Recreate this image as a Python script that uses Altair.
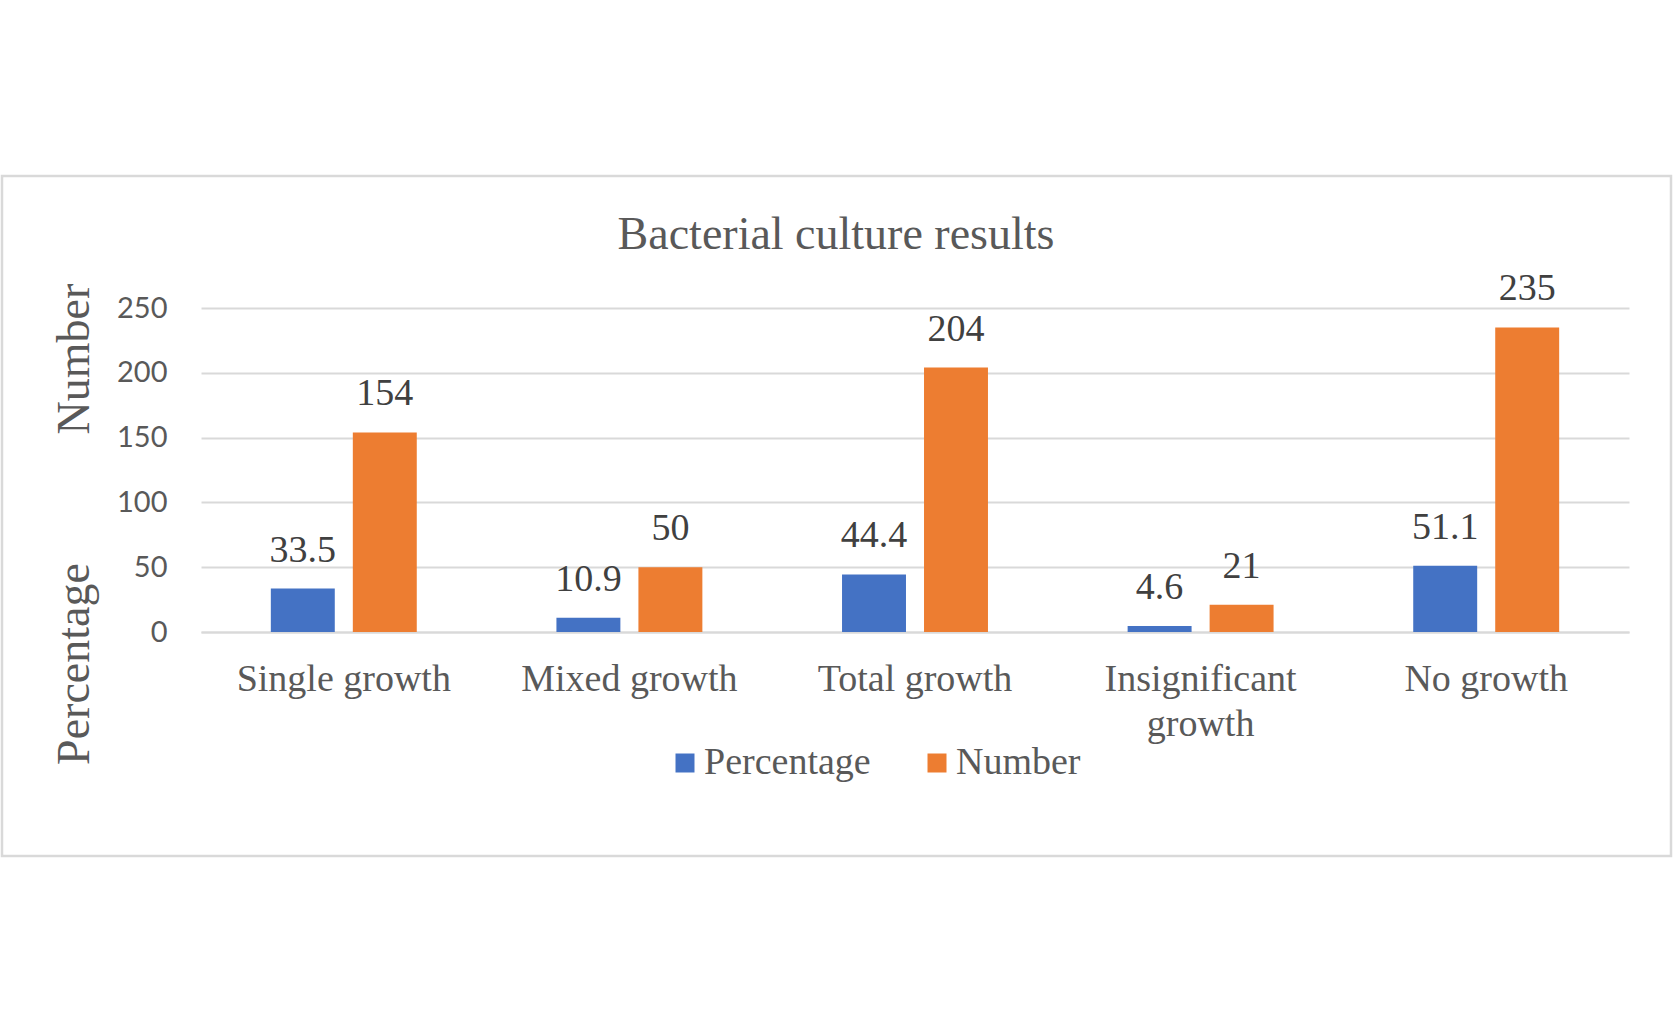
import altair as alt
import pandas as pd

# Bacterial culture results: percentage and count per outcome
categories = ["Single growth", "Mixed growth", "Total growth", "Insignificant growth", "No growth"]
series_names = ["Percentage", "Number"]
percentage = [33.5, 10.9, 44.4, 4.6, 51.1]
number = [154, 50, 204, 21, 235]
y_ticks = [0, 50, 100, 150, 200, 250]
series_colors = ["#4472C4", "#ED7D31"]

rows = []
for cat, p, n in zip(categories, percentage, number):
    rows.append({"category": cat, "series": "Percentage", "value": p})
    rows.append({"category": cat, "series": "Number", "value": n})
df = pd.DataFrame(rows)

PLOT_W = 1428
PLOT_H = 324
SERIF = "Liberation Serif"
GREY = "#595959"
LINE = "#D9D9D9"

x_enc = alt.X(
    "category:N",
    sort=categories,
    scale=alt.Scale(paddingInner=0.489, paddingOuter=0.2445),
    axis=alt.Axis(
        title=None,
        labelAngle=0,
        labelFont=SERIF,
        labelFontSize=38,
        labelColor=GREY,
        labelLimit=500,
        labelPadding=28,
        labelLineHeight=45,
        labelExpr="datum.label == 'Insignificant growth' ? ['Insignificant', 'growth'] : datum.label",
        ticks=False,
        domainColor=LINE,
        domainWidth=2,
    ),
)
xoff_enc = alt.XOffset(
    "series:N",
    sort=series_names,
    scale=alt.Scale(domain=series_names, paddingInner=0.22, paddingOuter=0),
)
y_enc = alt.Y(
    "value:Q",
    scale=alt.Scale(domain=[0, 250], nice=False),
    axis=alt.Axis(
        title=None,
        values=y_ticks,
        labelFont="Lato",
        labelFontSize=29,
        labelColor=GREY,
        labelPadding=34,
        ticks=False,
        domain=False,
        gridColor=LINE,
        gridWidth=2,
    ),
)

bars = alt.Chart(df).mark_bar().encode(
    x=x_enc,
    xOffset=xoff_enc,
    y=y_enc,
    color=alt.Color(
        "series:N",
        sort=series_names,
        scale=alt.Scale(domain=series_names, range=series_colors),
        legend=alt.Legend(
            title=None,
            orient="none",
            direction="horizontal",
            legendX=465,
            legendY=436,
            padding=0,
            symbolType="square",
            symbolSize=361,
            symbolStrokeWidth=0,
            labelFont=SERIF,
            labelFontSize=38,
            labelColor=GREY,
            labelOffset=0,
            labelLimit=400,
            columnPadding=47,
        ),
    ),
)

value_labels = alt.Chart(df).mark_text(
    font=SERIF, fontSize=38, color="#404040", baseline="alphabetic", dy=-27
).encode(
    x=x_enc,
    xOffset=xoff_enc,
    y=y_enc,
    text=alt.Text("value:Q"),
)

one = pd.DataFrame({"k": [0]})

frame = alt.Chart(one).mark_rect(fill="transparent", stroke=LINE, strokeWidth=2.5).encode(
    x=alt.value(-199), x2=alt.value(1470), y=alt.value(-132), y2=alt.value(548)
)

title = alt.Chart(one).mark_text(
    text="Bacterial culture results", font=SERIF, fontSize=46, color=GREY,
    align="center", baseline="alphabetic",
).encode(x=alt.value(635), y=alt.value(-59))

y_title_top = alt.Chart(one).mark_text(
    text="Number", font=SERIF, fontSize=46, color=GREY,
    angle=270, align="center", baseline="middle",
).encode(x=alt.value(-126), y=alt.value(51))

y_title_bottom = alt.Chart(one).mark_text(
    text="Percentage", font=SERIF, fontSize=46, color=GREY,
    angle=270, align="center", baseline="middle",
).encode(x=alt.value(-126), y=alt.value(356))

chart = (
    alt.layer(frame, bars, value_labels, title, y_title_top, y_title_bottom)
    .properties(
        width=PLOT_W,
        height=PLOT_H,
        autosize=alt.AutoSizeParams(type="none"),
        padding={"left": 201, "top": 308, "right": 45, "bottom": 402},
        background="white",
    )
    .configure_view(strokeWidth=0)
)

chart.save("out.html", embed_options={"renderer": "svg", "actions": False})
